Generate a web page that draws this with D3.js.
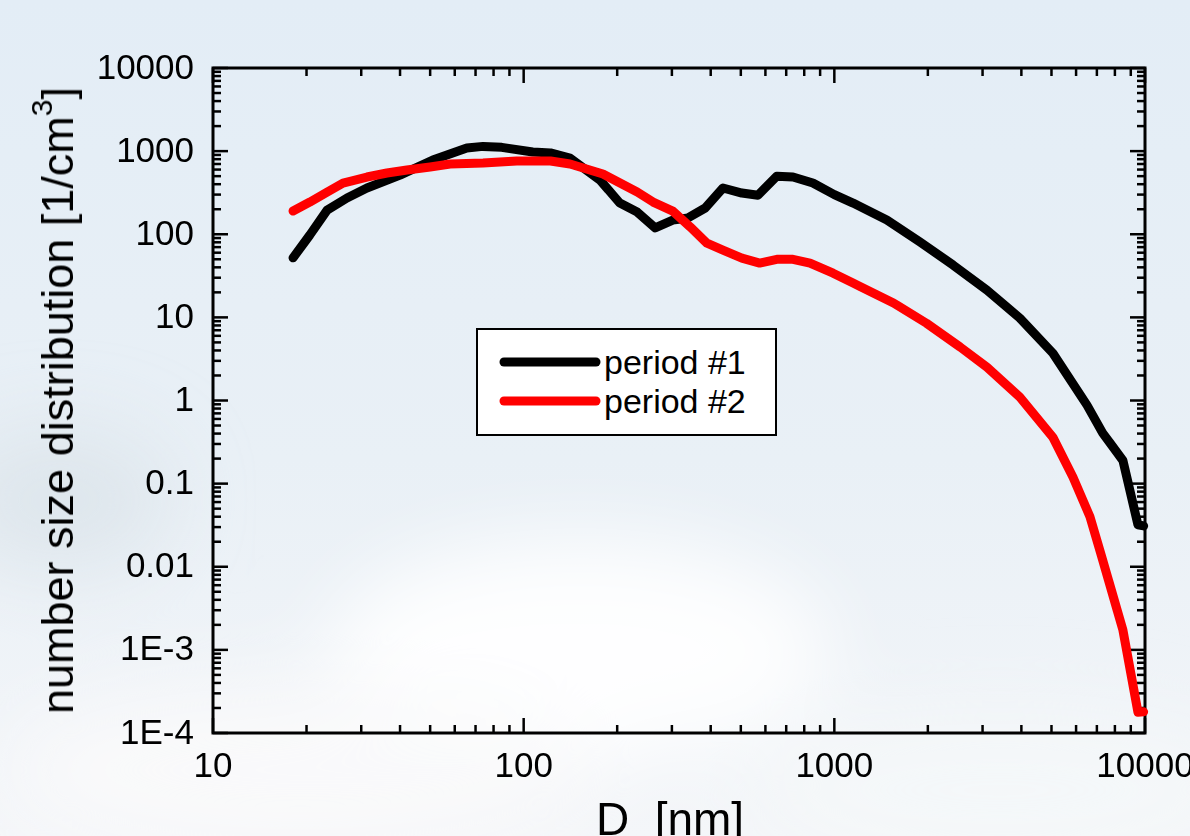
<!DOCTYPE html>
<html>
<head>
<meta charset="utf-8">
<script src="https://cdn.jsdelivr.net/npm/d3@7"></script>
<style>
  html, body { margin: 0; padding: 0; overflow: hidden; }
  svg { display: block; font-family: "Liberation Sans", Arial, sans-serif; }
</style>
</head>
<body>
<svg id="chart" width="1190" height="836"></svg>
<script>
// period #1 (black)
const diam1 = [18.1, 20.5, 23.3, 27, 31.3, 40, 51, 65.6, 74, 85, 107, 122, 141, 176, 204, 232, 265, 302, 338, 384, 438, 504, 568, 653, 736, 853, 1000, 1149, 1476, 1887, 2411, 3098, 3955, 5054, 6505, 7310, 8490, 9490, 9900];
const conc1 = [52, 98, 195, 273, 360, 515, 782, 1089, 1140, 1110, 977, 950, 826, 449, 237, 185, 119, 148, 157, 207, 360, 313, 295, 500, 488, 413, 300, 237, 148, 80.5, 42.6, 21.3, 9.8, 3.7, 0.88, 0.405, 0.19, 0.032, 0.031];

// period #2 (red)
const diam2 = [18.1, 20.5, 23.3, 26.2, 31.3, 36.3, 42.1, 50, 58, 74, 95, 122, 141, 180, 232, 261, 302, 344, 389, 438, 504, 575, 653, 736, 835, 991, 1149, 1550, 1980, 2540, 3098, 3955, 5054, 5860, 6650, 7310, 8490, 9490, 9900];
const conc2 = [190, 244, 322, 413, 488, 545, 593, 645, 700, 720, 760, 760, 700, 530, 322, 244, 190, 122, 78, 64.5, 51.7, 45, 50, 50, 45, 34, 25.9, 14.9, 8.5, 4.4, 2.52, 1.1, 0.36, 0.12, 0.04, 0.012, 0.00173, 0.000178, 0.00018];

const seriesNames = ["period #1", "period #2"];
const seriesColors = ["#000000", "#ff0000"];

const xTicks = [10, 100, 1000, 10000];
const xTickLabels = ["10", "100", "1000", "10000"];
const yTicks = [1e4, 1e3, 1e2, 10, 1, 0.1, 0.01, 1e-3, 1e-4];
const yTickLabels = ["10000", "1000", "100", "10", "1", "0.1", "0.01", "1E-3", "1E-4"];

const svg = d3.select("#chart");
const W = 1190, H = 836;
const margin = {left: 213, right: 45, top: 68, bottom: 103};
const plotW = W - margin.left - margin.right;
const plotH = H - margin.top - margin.bottom;

// sky background
const defs = svg.append("defs");
const sky = defs.append("linearGradient").attr("id", "sky")
  .attr("x1", 0).attr("y1", 0).attr("x2", 0).attr("y2", 1);
sky.append("stop").attr("offset", "0%").attr("stop-color", "#e3edf6");
sky.append("stop").attr("offset", "55%").attr("stop-color", "#e9f0f6");
sky.append("stop").attr("offset", "100%").attr("stop-color", "#f4f6f9");
defs.append("filter").attr("id", "blur")
  .attr("x", "-50%").attr("y", "-50%").attr("width", "200%").attr("height", "200%")
  .append("feGaussianBlur").attr("stdDeviation", 40);

svg.append("rect").attr("width", W).attr("height", H).attr("fill", "url(#sky)");

const clouds = svg.append("g").attr("filter", "url(#blur)");
clouds.append("ellipse").attr("cx", 60).attr("cy", 500).attr("rx", 110).attr("ry", 70)
  .attr("fill", "#dbe3ea").attr("opacity", 0.8);
clouds.append("ellipse").attr("cx", 580).attr("cy", 650).attr("rx", 250).attr("ry", 110)
  .attr("fill", "#ffffff").attr("opacity", 0.9);
clouds.append("ellipse").attr("cx", 300).attr("cy", 770).attr("rx", 300).attr("ry", 90)
  .attr("fill", "#f9fafb").attr("opacity", 0.9);
clouds.append("ellipse").attr("cx", 1000).attr("cy", 790).attr("rx", 260).attr("ry", 80)
  .attr("fill", "#f5f7f9").attr("opacity", 0.8);

const g = svg.append("g").attr("transform", `translate(${margin.left},${margin.top})`);

const x = d3.scaleLog().domain([10, 10000]).range([0, plotW]);
const y = d3.scaleLog().domain([1e-4, 1e4]).range([plotH, 0]);

// minor ticks 2..9 per decade
const minorX = [];
for (let e = 1; e < 4; e++) for (let k = 2; k <= 9; k++) minorX.push(k * Math.pow(10, e));
const minorY = [];
for (let e = -4; e < 4; e++) for (let k = 2; k <= 9; k++) minorY.push(k * Math.pow(10, e));

const majorLen = 15, minorLen = 8;
const tickG = g.append("g").attr("stroke", "#000").attr("stroke-width", 2.5);

function vTicks(vals, len, atY, dir) {
  tickG.selectAll(null).data(vals).enter().append("line")
    .attr("x1", d => x(d)).attr("x2", d => x(d))
    .attr("y1", atY).attr("y2", atY + dir * len);
}
function hTicks(vals, len, atX, dir) {
  tickG.selectAll(null).data(vals).enter().append("line")
    .attr("y1", d => y(d)).attr("y2", d => y(d))
    .attr("x1", atX).attr("x2", atX + dir * len);
}
vTicks(xTicks, majorLen, plotH, -1);
vTicks(minorX, minorLen, plotH, -1);
vTicks(xTicks, majorLen, 0, 1);
vTicks(minorX, minorLen, 0, 1);
hTicks(yTicks, majorLen, 0, 1);
hTicks(minorY, minorLen, 0, 1);
hTicks(yTicks, majorLen, plotW, -1);
hTicks(minorY, minorLen, plotW, -1);

// frame
g.append("rect").attr("width", plotW).attr("height", plotH)
  .attr("fill", "none").attr("stroke", "#000").attr("stroke-width", 3);

// tick labels
g.selectAll(".xl").data(xTicks).enter().append("text")
  .attr("x", d => x(d)).attr("y", plotH + 44)
  .attr("text-anchor", "middle").attr("font-size", 35).attr("fill", "#000")
  .text((d, i) => xTickLabels[i]);
g.selectAll(".yl").data(yTicks).enter().append("text")
  .attr("x", -19).attr("y", d => y(d)).attr("dy", "0.3em")
  .attr("text-anchor", "end").attr("font-size", 35).attr("fill", "#000")
  .text((d, i) => yTickLabels[i]);

// axis titles
g.append("text").attr("x", plotW / 2 - 9).attr("y", plotH + 102)
  .attr("text-anchor", "middle").attr("font-size", 46).attr("fill", "#000")
  .attr("xml:space", "preserve").text("D  [nm]");

const yTitle = svg.append("text")
  .attr("transform", `translate(73,${margin.top + plotH / 2}) rotate(-90)`)
  .attr("text-anchor", "middle").attr("font-size", 45).attr("fill", "#000");
yTitle.append("tspan").text("number size distribution [1/cm");
yTitle.append("tspan").attr("font-size", 30).attr("dy", -21).text("3");
yTitle.append("tspan").attr("dy", 21).text("]");

// data lines
const line = d3.line().x(d => x(d[0])).y(d => y(d[1]));
const data1 = diam1.map((d, i) => [d, conc1[i]]);
const data2 = diam2.map((d, i) => [d, conc2[i]]);
[data1, data2].forEach((s, i) => {
  g.append("path").datum(s).attr("d", line)
    .attr("fill", "none").attr("stroke", seriesColors[i]).attr("stroke-width", 9)
    .attr("stroke-linejoin", "round").attr("stroke-linecap", "round");
});

// legend
const leg = svg.append("g").attr("transform", "translate(477,329)");
leg.append("rect").attr("width", 299).attr("height", 106)
  .attr("fill", "#ffffff").attr("stroke", "#000").attr("stroke-width", 2);
seriesNames.forEach((name, i) => {
  const ly = 33 + i * 39;
  leg.append("line").attr("x1", 27).attr("x2", 119).attr("y1", ly).attr("y2", ly)
    .attr("stroke", seriesColors[i]).attr("stroke-width", 9).attr("stroke-linecap", "round");
  leg.append("text").attr("x", 127).attr("y", ly).attr("dy", "0.36em")
    .attr("font-size", 34).attr("fill", "#000").text(name);
});
</script>
</body>
</html>
